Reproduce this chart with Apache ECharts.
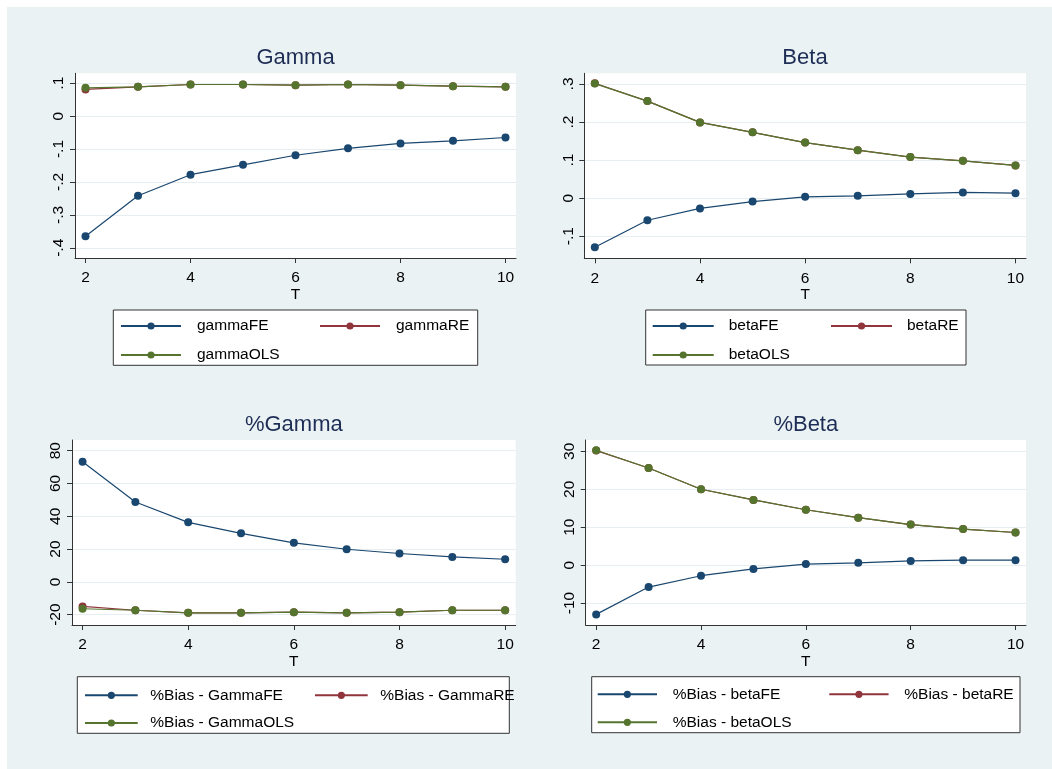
<!DOCTYPE html>
<html><head><meta charset="utf-8">
<script src="https://cdn.jsdelivr.net/npm/echarts@6/dist/echarts.min.js"></script>
<style>
html,body{margin:0;padding:0;background:#fff;}
#bg{position:absolute;left:7px;top:7px;width:1045px;height:762px;background:#eaf2f3;}
#chart{position:absolute;left:0;top:0;width:1052px;height:769px;}
</style></head><body>
<div id="bg"></div><div id="chart"></div>
<script>
// ---- data ----
const T = [2, 3, 4, 5, 6, 7, 8, 9, 10];
const gammaFE  = [-0.365, -0.242, -0.178, -0.148, -0.119, -0.098, -0.083, -0.075, -0.065];
const gammaRE  = [0.081, 0.089, 0.096, 0.096, 0.094, 0.096, 0.094, 0.091, 0.089];
const gammaOLS = [0.086, 0.089, 0.096, 0.096, 0.094, 0.096, 0.094, 0.091, 0.089];
const betaFE  = [-0.129, -0.058, -0.027, -0.009, 0.0035, 0.006, 0.011, 0.015, 0.013];
const betaRE  = [0.302, 0.255, 0.199, 0.173, 0.146, 0.126, 0.108, 0.098, 0.086];
const betaOLS = [0.301, 0.255, 0.199, 0.173, 0.146, 0.126, 0.108, 0.098, 0.086];
const pctGammaFE  = [73.3, 48.7, 36.3, 29.6, 23.8, 19.9, 17.3, 15.2, 13.8];
const pctGammaRE  = [-15.0, -17.3, -18.9, -18.9, -18.5, -18.9, -18.5, -17.3, -17.3];
const pctGammaOLS = [-16.4, -17.3, -18.9, -18.9, -18.5, -18.9, -18.5, -17.3, -17.3];
const pctBetaFE  = [-13.0, -5.8, -2.8, -1.0, 0.26, 0.6, 1.1, 1.3, 1.3];
const pctBetaRE  = [30.2, 25.6, 20.0, 17.2, 14.6, 12.5, 10.7, 9.5, 8.6];
const pctBetaOLS = [30.3, 25.6, 20.0, 17.2, 14.6, 12.5, 10.7, 9.5, 8.6];

const xTicks = [2, 4, 6, 8, 10];
const gammaTicks = [-0.4, -0.3, -0.2, -0.1, 0, 0.1];
const betaTicks = [-0.1, 0, 0.1, 0.2, 0.3];
const pctGammaTicks = [-20, 0, 20, 40, 60, 80];
const pctBetaTicks = [-10, 0, 10, 20, 30];

const titles = ['Gamma', 'Beta', '%Gamma', '%Beta'];
const seriesNames = [
  ['gammaFE', 'gammaRE', 'gammaOLS'],
  ['betaFE', 'betaRE', 'betaOLS'],
  ['%Bias - GammaFE', '%Bias - GammaRE', '%Bias - GammaOLS'],
  ['%Bias - betaFE', '%Bias - betaRE', '%Bias - betaOLS']
];
const seriesData = [
  [gammaFE, gammaRE, gammaOLS],
  [betaFE, betaRE, betaOLS],
  [pctGammaFE, pctGammaRE, pctGammaOLS],
  [pctBetaFE, pctBetaRE, pctBetaOLS]
];
const yTicks = [gammaTicks, betaTicks, pctGammaTicks, pctBetaTicks];

// ---- layout / style ----
const colors = ['#1a476f', '#90353b', '#55752f'];
const FONT = 'Liberation Sans, Arial, Helvetica, sans-serif';
const grids = [
  {left: 75, top: 73.3, width: 441, height: 184.7},
  {left: 584.3, top: 73.3, width: 441.7, height: 185},
  {left: 72, top: 440, width: 443.7, height: 185},
  {left: 585.7, top: 440, width: 440.3, height: 185}
];
const yRanges = [[-0.431, 0.130], [-0.158, 0.328], [-26.3, 86.5], [-15.8, 33.0]];
const titlePos = [[295.5, 58], [805, 58], [293.8, 424.5], [805.8, 424.5]];
const legendCfg = [
  {frame: [113.3, 310, 364.4, 55.3], c1: 120, c2: 319, top: 318, w: 60, pad: 11, gap: 13},
  {frame: [645.7, 310, 320.3, 55], c1: 651.7, c2: 830, top: 318, w: 61, pad: 10, gap: 13},
  {frame: [77.3, 676.7, 432, 56.6], c1: 84, c2: 314, top: 687.3, w: 52.7, pad: 7.6, gap: 11.7},
  {frame: [591.7, 676.7, 428.3, 56], c1: 596.7, c2: 828.3, top: 686.3, w: 59.3, pad: 10.7, gap: 12}
];

function fmtDec(v) {
  if (v === 0) return '0';
  return String(v).replace(/^(-?)0\./, '$1.');
}

const option = {
  animation: false,
  title: titles.map((t, i) => ({
    text: t, left: titlePos[i][0], top: titlePos[i][1], padding: 0,
    textAlign: 'center', textVerticalAlign: 'middle',
    textStyle: {fontFamily: FONT, fontSize: 22, fontWeight: 'normal', color: '#1e2d56'}
  })),
  grid: grids.map(g => Object.assign({show: true, backgroundColor: '#ffffff', borderWidth: 0}, g)),
  xAxis: grids.map((g, i) => ({
    type: 'value', gridIndex: i, min: 1.8, max: 10.2,
    name: 'T', nameLocation: 'middle', nameGap: 26,
    nameTextStyle: {fontFamily: FONT, fontSize: 15.5, color: '#000'},
    axisLine: {show: true, onZero: false, lineStyle: {color: '#333', width: 1}},
    axisTick: {show: true, length: 5, customValues: xTicks, lineStyle: {color: '#333'}},
    axisLabel: {customValues: xTicks, margin: 12, fontFamily: FONT, fontSize: 15.5, color: '#000'},
    splitLine: {show: false}
  })),
  yAxis: grids.map((g, i) => ({
    type: 'value', gridIndex: i, min: yRanges[i][0], max: yRanges[i][1],
    axisLine: {show: true, onZero: false, lineStyle: {color: '#333', width: 1}},
    axisTick: {show: true, length: 5, customValues: yTicks[i], lineStyle: {color: '#333'}},
    axisLabel: {customValues: yTicks[i], rotate: 90, margin: 8, fontFamily: FONT, fontSize: 15.5, color: '#000',
      formatter: i < 2 ? fmtDec : (v => String(v))},
    splitLine: {show: true, lineStyle: {color: '#e6eef1', width: 1}}
  })),
  legend: [],
  graphic: legendCfg.map(c => ({
    type: 'rect', z: 1,
    shape: {x: c.frame[0], y: c.frame[1], width: c.frame[2], height: c.frame[3]},
    style: {fill: '#ffffff', stroke: '#333', lineWidth: 1}
  })),
  series: []
};

seriesNames.forEach((names, p) => {
  names.forEach((nm, k) => {
    option.series.push({
      type: 'line', name: nm, xAxisIndex: p, yAxisIndex: p,
      data: T.map((t, j) => [t, seriesData[p][k][j]]),
      symbol: 'circle', symbolSize: 8, showSymbol: true,
      lineStyle: {color: colors[k], width: 1.2},
      itemStyle: {color: colors[k]},
      emphasis: {disabled: true}, z: 2 + k
    });
  });
  const c = legendCfg[p];
  const common = {
    orient: 'vertical', padding: 0, itemGap: c.gap, itemWidth: c.w, itemHeight: 9,
    selectedMode: false, z: 5,
    textStyle: {fontFamily: FONT, fontSize: 15.5, color: '#000', lineHeight: 14, padding: [0, 0, 0, c.pad]}
  };
  option.legend.push(Object.assign({}, common, {left: c.c1, top: c.top, data: [names[0], names[2]]}));
  option.legend.push(Object.assign({}, common, {left: c.c2, top: c.top, data: [names[1]]}));
});

const chart = echarts.init(document.getElementById('chart'), null, {renderer: 'canvas'});
chart.setOption(option);
</script>
</body></html>
